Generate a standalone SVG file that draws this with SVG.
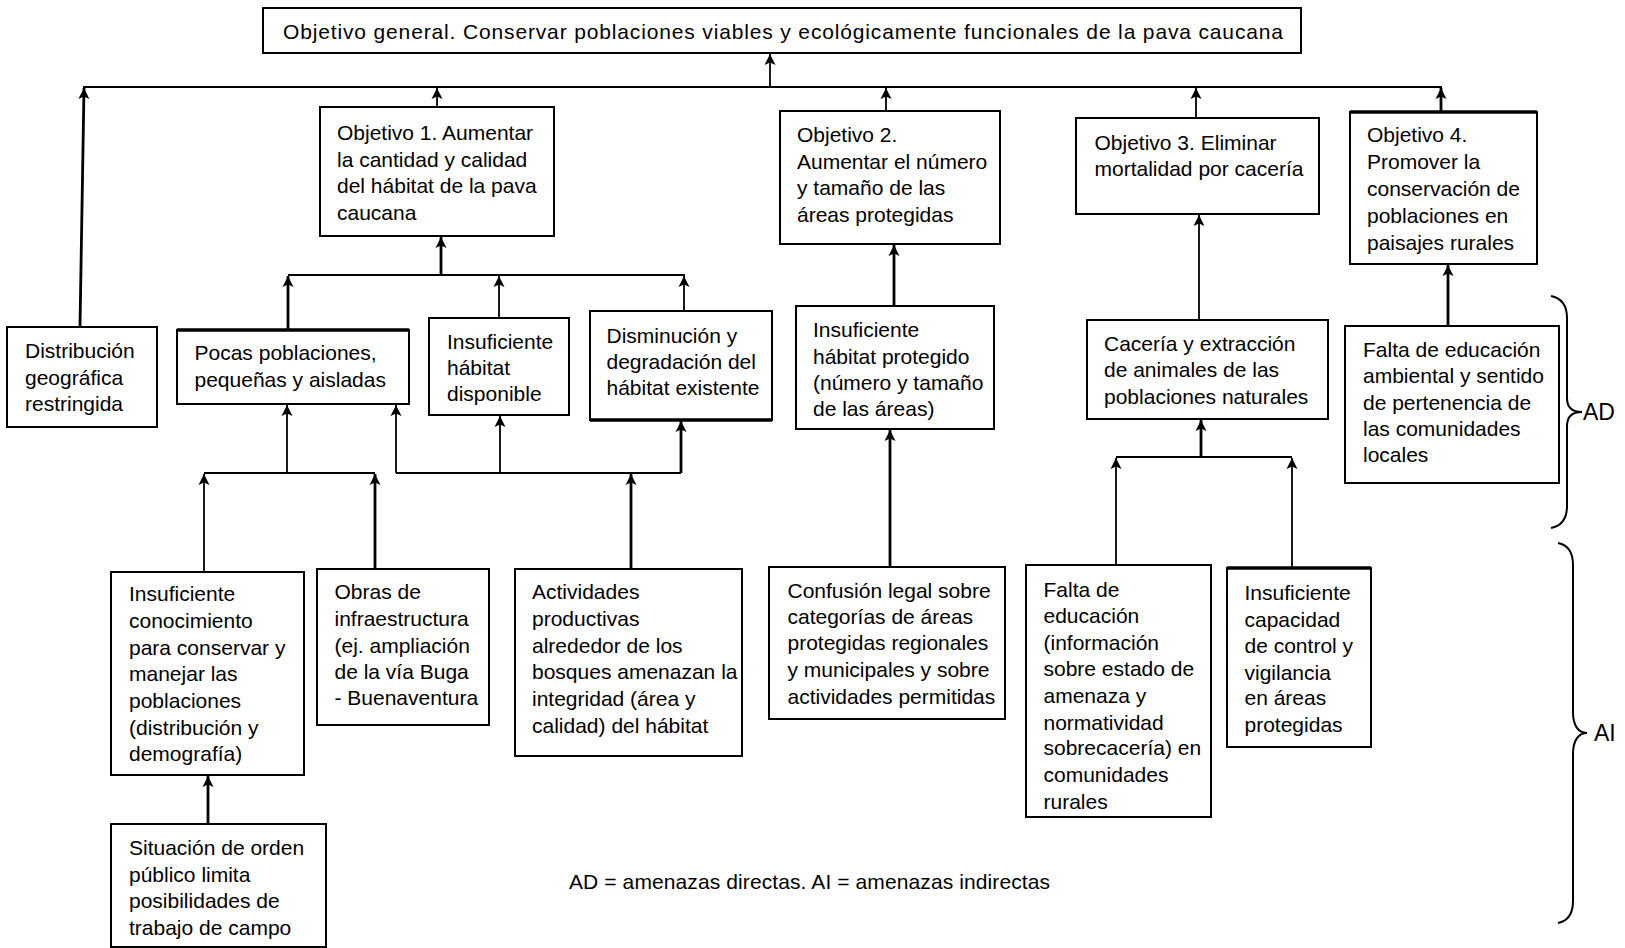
<svg xmlns="http://www.w3.org/2000/svg" width="1625" height="948" viewBox="0 0 1625 948">
<defs>
<style>
.box{fill:#fff;stroke:#000;stroke-width:2}
.edge{stroke:#000;stroke-width:3.5}
.t{font-family:"Liberation Sans",Arial,sans-serif;font-size:21px;fill:#000}
.lab{font-size:23px}
.c{fill:none;stroke:#000;stroke-width:1.8}
.k{fill:none;stroke:#000;stroke-width:2.8}
.a{marker-end:url(#ah)}
.br{fill:none;stroke:#000;stroke-width:2}
</style>
<marker id="ah" markerUnits="userSpaceOnUse" markerWidth="14" markerHeight="14" viewBox="-13 -7 14 14" refX="0" refY="0" orient="auto">
<path d="M0,0 L-11,-5.5 L-8.5,0 L-11,5.5 z" fill="#000"/>
</marker>
</defs>
<rect width="1625" height="948" fill="#fff"/>

<g id="connectors">
<line class="c a" x1="770" y1="87" x2="770" y2="54"/>
<line class="c" x1="83" y1="87" x2="1442" y2="87"/>
<line class="k a" x1="80" y1="327" x2="84" y2="88"/>
<line class="c a" x1="437" y1="107" x2="437" y2="88"/>
<line class="c a" x1="886" y1="111" x2="886" y2="88"/>
<line class="c a" x1="1196" y1="118" x2="1196" y2="88"/>
<line class="k a" x1="1441" y1="112" x2="1441" y2="88"/>
<line class="k a" x1="441" y1="275" x2="441" y2="237"/>
<line class="c" x1="288" y1="275" x2="685" y2="275"/>
<line class="k a" x1="288" y1="330" x2="288" y2="276"/>
<line class="c a" x1="499" y1="318" x2="499" y2="276"/>
<line class="c a" x1="684" y1="311" x2="684" y2="276"/>
<line class="c a" x1="204" y1="572" x2="204" y2="474"/>
<line class="k a" x1="375" y1="569" x2="375" y2="474"/>
<line class="c" x1="204" y1="473" x2="375" y2="473"/>
<line class="c a" x1="287" y1="473" x2="287" y2="405"/>
<line class="k a" x1="631" y1="569" x2="631" y2="474"/>
<line class="c" x1="396" y1="473" x2="681" y2="473"/>
<line class="c a" x1="396" y1="473" x2="396" y2="405"/>
<line class="c a" x1="500" y1="473" x2="500" y2="416"/>
<line class="k a" x1="681" y1="473" x2="681" y2="421"/>
<line class="k a" x1="208" y1="824" x2="208" y2="776"/>
<line class="k a" x1="894" y1="306" x2="894" y2="245"/>
<line class="k a" x1="890" y1="567" x2="890" y2="430"/>
<line class="c a" x1="1199" y1="320" x2="1199" y2="215"/>
<line class="c a" x1="1116" y1="565" x2="1116" y2="458"/>
<line class="c a" x1="1292" y1="568" x2="1292" y2="458"/>
<line class="c" x1="1116" y1="457" x2="1292" y2="457"/>
<line class="k a" x1="1201" y1="457" x2="1201" y2="420"/>
<line class="k a" x1="1448" y1="326" x2="1448" y2="265"/>
</g>

<g id="n-top">
<rect class="box" x="263" y="8" width="1038" height="45"/>
<text class="t" x="283" y="39" textLength="1000" lengthAdjust="spacing">Objetivo general. Conservar poblaciones viables y ecológicamente funcionales de la pava caucana</text>
</g>

<g id="n-obj1">
<rect class="box" x="320" y="107" width="234" height="129"/>
<text class="t" x="337" y="140">Objetivo 1. Aumentar</text>
<text class="t" x="337" y="166.7">la cantidad y calidad</text>
<text class="t" x="337" y="193.3">del hábitat de la pava</text>
<text class="t" x="337" y="220">caucana</text>
</g>

<g id="n-obj2">
<rect class="box" x="780" y="111" width="220" height="133"/>
<text class="t" x="797" y="142">Objetivo 2.</text>
<text class="t" x="797" y="168.7">Aumentar el número</text>
<text class="t" x="797" y="195">y tamaño de las</text>
<text class="t" x="797" y="221.5">áreas protegidas</text>
</g>

<g id="n-obj3">
<rect class="box" x="1076" y="118" width="243" height="96"/>
<text class="t" x="1094.5" y="149.5">Objetivo 3. Eliminar</text>
<text class="t" x="1094.5" y="176">mortalidad por cacería</text>
</g>

<g id="n-obj4">
<rect class="box" x="1350" y="112" width="187" height="152"/>
<line class="edge" x1="1350" y1="112" x2="1537" y2="112"/>
<text class="t" x="1367" y="142">Objetivo 4.</text>
<text class="t" x="1367" y="169">Promover la</text>
<text class="t" x="1367" y="196">conservación de</text>
<text class="t" x="1367" y="223">poblaciones en</text>
<text class="t" x="1367" y="249.5">paisajes rurales</text>
</g>

<g id="n-distribucion">
<rect class="box" x="7" y="327" width="150" height="100"/>
<text class="t" x="25" y="357.5">Distribución</text>
<text class="t" x="25" y="384.5">geográfica</text>
<text class="t" x="25" y="411">restringida</text>
</g>

<g id="n-pocas">
<rect class="box" x="177" y="330" width="232" height="74"/>
<line class="edge" x1="177" y1="330" x2="409" y2="330"/>
<text class="t" x="194.5" y="360">Pocas poblaciones,</text>
<text class="t" x="194.5" y="387">pequeñas y aisladas</text>
</g>

<g id="n-insuf-habitat">
<rect class="box" x="429" y="318" width="140" height="97"/>
<text class="t" x="447" y="348.5">Insuficiente</text>
<text class="t" x="447" y="374.5">hábitat</text>
<text class="t" x="447" y="401">disponible</text>
</g>

<g id="n-disminucion">
<rect class="box" x="590" y="311" width="182" height="109"/>
<line class="edge" x1="590" y1="420" x2="772" y2="420"/>
<text class="t" x="606.5" y="343">Disminución y</text>
<text class="t" x="606.5" y="368.5">degradación del</text>
<text class="t" x="606.5" y="395">hábitat existente</text>
</g>

<g id="n-insuf-protegido">
<rect class="box" x="796" y="306" width="198" height="123"/>
<text class="t" x="813" y="337">Insuficiente</text>
<text class="t" x="813" y="363.5">hábitat protegido</text>
<text class="t" x="813" y="389.5">(número y tamaño</text>
<text class="t" x="813" y="416">de las áreas)</text>
</g>

<g id="n-caceria">
<rect class="box" x="1087" y="320" width="241" height="99"/>
<text class="t" x="1104" y="351">Cacería y extracción</text>
<text class="t" x="1104" y="377">de animales de las</text>
<text class="t" x="1104" y="403.5">poblaciones naturales</text>
</g>

<g id="n-falta-ambiental">
<rect class="box" x="1345" y="326" width="214" height="157"/>
<text class="t" x="1363" y="357">Falta de educación</text>
<text class="t" x="1363" y="383">ambiental y sentido</text>
<text class="t" x="1363" y="409.5">de pertenencia de</text>
<text class="t" x="1363" y="436">las comunidades</text>
<text class="t" x="1363" y="462">locales</text>
</g>

<g id="n-insuf-conocimiento">
<rect class="box" x="111" y="572" width="193" height="203"/>
<text class="t" x="129" y="601">Insuficiente</text>
<text class="t" x="129" y="628">conocimiento</text>
<text class="t" x="129" y="655">para conservar y</text>
<text class="t" x="129" y="681">manejar las</text>
<text class="t" x="129" y="708">poblaciones</text>
<text class="t" x="129" y="734.5">(distribución y</text>
<text class="t" x="129" y="761">demografía)</text>
</g>

<g id="n-obras">
<rect class="box" x="317" y="569" width="172" height="156"/>
<text class="t" x="334.5" y="599">Obras de</text>
<text class="t" x="334.5" y="626">infraestructura</text>
<text class="t" x="334.5" y="652.5">(ej. ampliación</text>
<text class="t" x="334.5" y="678.5">de la vía Buga</text>
<text class="t" x="334.5" y="705">- Buenaventura</text>
</g>

<g id="n-actividades">
<rect class="box" x="515" y="569" width="227" height="187"/>
<text class="t" x="532" y="599">Actividades</text>
<text class="t" x="532" y="626">productivas</text>
<text class="t" x="532" y="652.5">alrededor de los</text>
<text class="t" x="532" y="679">bosques amenazan la</text>
<text class="t" x="532" y="706">integridad (área y</text>
<text class="t" x="532" y="732.5">calidad) del hábitat</text>
</g>

<g id="n-confusion">
<rect class="box" x="769" y="567" width="236" height="152"/>
<text class="t" x="787.5" y="597.5">Confusión legal sobre</text>
<text class="t" x="787.5" y="624">categorías de áreas</text>
<text class="t" x="787.5" y="650">protegidas regionales</text>
<text class="t" x="787.5" y="677">y municipales y sobre</text>
<text class="t" x="787.5" y="703.5">actividades permitidas</text>
</g>

<g id="n-falta-educacion">
<rect class="box" x="1026" y="565" width="185" height="252"/>
<text class="t" x="1043.5" y="597">Falta de</text>
<text class="t" x="1043.5" y="623">educación</text>
<text class="t" x="1043.5" y="649.5">(información</text>
<text class="t" x="1043.5" y="676">sobre estado de</text>
<text class="t" x="1043.5" y="703">amenaza y</text>
<text class="t" x="1043.5" y="729.5">normatividad</text>
<text class="t" x="1043.5" y="755">sobrecacería) en</text>
<text class="t" x="1043.5" y="782">comunidades</text>
<text class="t" x="1043.5" y="808.5">rurales</text>
</g>

<g id="n-insuf-capacidad">
<rect class="box" x="1227" y="568" width="144" height="179"/>
<line class="edge" x1="1227" y1="568" x2="1371" y2="568"/>
<text class="t" x="1244.5" y="600">Insuficiente</text>
<text class="t" x="1244.5" y="627">capacidad</text>
<text class="t" x="1244.5" y="653">de control y</text>
<text class="t" x="1244.5" y="679.5">vigilancia</text>
<text class="t" x="1244.5" y="705">en áreas</text>
<text class="t" x="1244.5" y="732">protegidas</text>
</g>

<g id="n-situacion">
<rect class="box" x="111" y="824" width="215" height="123"/>
<text class="t" x="129" y="854.5">Situación de orden</text>
<text class="t" x="129" y="882">público limita</text>
<text class="t" x="129" y="908">posibilidades de</text>
<text class="t" x="129" y="934.5">trabajo de campo</text>
</g>

<g id="brace-ad">
<path class="br" d="M1551,296 C1561,298 1567,305 1567,318 L1567,398 C1567,407 1572,412 1582,412 C1572,412 1567,417 1567,426 L1567,506 C1567,519 1561,526 1551,528"/>
<text class="t lab" x="1583" y="420">AD</text>
</g>

<g id="brace-ai">
<path class="br" d="M1558,543 C1568,545 1573,552 1573,565 L1573,712 C1573,725 1578,733 1587,733 C1578,733 1573,741 1573,754 L1573,901 C1573,914 1568,921 1558,923"/>
<text class="t lab" x="1594" y="741">AI</text>
</g>

<g id="caption">
<text class="t" x="569" y="888.5" textLength="481" lengthAdjust="spacing">AD = amenazas directas. AI = amenazas indirectas</text>
</g>
</svg>
